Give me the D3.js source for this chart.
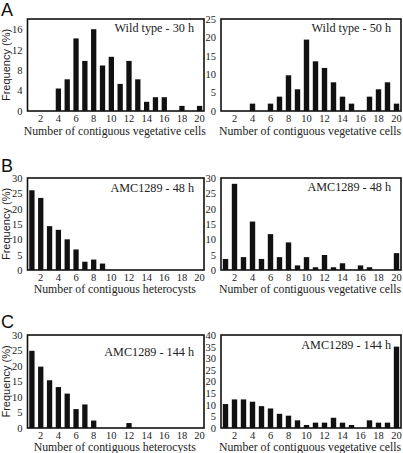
<!DOCTYPE html>
<html><head><meta charset="utf-8">
<script src="https://cdn.jsdelivr.net/npm/d3@7"></script>
<style>body{margin:0;background:#fff}svg{display:block}</style>
</head><body><svg id="c" width="403" height="453"></svg>
<script>
const categories = d3.range(1, 21);
const tickLabels = [2,4,6,8,10,12,14,16,18,20];
const wt30 = [0,0,0,4.4,6.2,14.2,9.8,16.0,8.9,10.6,5.3,9.8,6.2,1.8,2.7,2.7,0,1.0,0,1.0];
const wt50 = [0,0,0,2.0,0,2.0,3.9,9.7,5.9,19.4,13.5,11.7,7.8,3.9,2.0,0,3.9,5.9,7.8,2.0];
const amc48Het = [26.0,23.5,14.3,13.1,10.0,6.7,2.7,3.4,2.1,0,0,0,0,0,0,0,0,0,0,0];
const amc48Veg = [3.6,28.1,4.2,15.8,3.6,11.7,4.2,9.0,1.5,4.2,0.9,4.9,0.9,2.2,0,1.5,0.9,0,0,5.5];
const amc144Het = [24.9,19.8,15.4,13.2,11.1,6.1,7.6,2.4,0,0,0,1.6,0,0,0,0,0,0,0,0];
const amc144Veg = [10.3,12.3,12.3,11.3,9.4,8.4,6.1,5.3,3.3,1.3,2.3,2.3,4.4,2.3,1.3,0,3.3,2.3,2.3,35.0];

const panels = [
  {vals: wt30, max: 18, step: 4, title: "Wild type - 30 h", xlab: "Number of contiguous vegetative cells", col: 0, row: 0, ty: 28},
  {vals: wt50, max: 25, step: 5, title: "Wild type - 50 h", xlab: "Number of contiguous vegetative cells", col: 1, row: 0, ty: 28},
  {vals: amc48Het, max: 30, step: 5, title: "AMC1289 - 48 h", xlab: "Number of contiguous heterocysts", col: 0, row: 1, ty: 188},
  {vals: amc48Veg, max: 30, step: 5, title: "AMC1289 - 48 h", xlab: "Number of contiguous vegetative cells", col: 1, row: 1, ty: 187},
  {vals: amc144Het, max: 30, step: 5, title: "AMC1289 - 144 h", xlab: "Number of contiguous heterocysts", col: 0, row: 2, ty: 352},
  {vals: amc144Veg, max: 40, step: 5, title: "AMC1289 - 144 h", xlab: "Number of contiguous vegetative cells", col: 1, row: 2, ty: 345}
];
const colX = [[27.5, 204], [221, 401]];
const rowY = [[19, 111], [178, 270], [335, 428]];
const labOff = [24, 23, 22.5];
const letters = [["A", 16], ["B", 172], ["C", 328]];

const svg = d3.select("#c");
const serif = "'Liberation Serif', 'Times New Roman', serif";
const sans = "'Liberation Sans', Arial, sans-serif";

panels.forEach(p => {
  const [x0, x1] = colX[p.col];
  const [y0, y1] = rowY[p.row];
  const x = d3.scaleBand().domain(categories).range([x0, x1]).paddingInner(0.4).paddingOuter(0.2);
  const y = d3.scaleLinear().domain([0, p.max]).range([y1, y0]);
  const g = svg.append("g");
  g.selectAll("rect.bar").data(p.vals.map((v, i) => ({c: categories[i], v})).filter(d => d.v > 0))
    .enter().append("rect").attr("class", "bar")
    .attr("x", d => x(d.c)).attr("width", x.bandwidth())
    .attr("y", d => y(d.v)).attr("height", d => y(0) - y(d.v))
    .attr("fill", "#111");
  g.append("rect").attr("x", x0).attr("y", y0).attr("width", x1 - x0).attr("height", y1 - y0)
    .attr("fill", "none").attr("stroke", "#111").attr("stroke-width", 1.6);
  const ya = d3.axisLeft(y).tickValues(d3.range(0, p.max + 0.01, p.step)).tickSize(0).tickPadding(5);
  const yg = g.append("g").attr("transform", `translate(${x0},0)`).call(ya);
  yg.select(".domain").remove();
  yg.selectAll("text").attr("font-family", serif).attr("font-size", 10.5).attr("fill", "#222");
  const xa = d3.axisBottom(x).tickValues(tickLabels).tickSize(0).tickPadding(4);
  const xg = g.append("g").attr("transform", `translate(0,${y1})`).call(xa);
  xg.select(".domain").remove();
  xg.selectAll("text").attr("font-family", serif).attr("font-size", 10.5).attr("fill", "#222");
  g.append("text").attr("x", (x0 + x1) / 2 - 1).attr("y", y1 + labOff[p.row])
    .attr("text-anchor", "middle").attr("font-family", serif).attr("font-size", 11.8).attr("fill", "#222")
    .text(p.xlab);
  g.append("text").attr("x", x1 - 10).attr("y", p.ty + 4)
    .attr("text-anchor", "end").attr("font-family", serif).attr("font-size", 12.2).attr("fill", "#222")
    .text(p.title);
  if (p.col === 0) {
    g.append("text").attr("transform", `translate(10,${(y0 + y1) / 2}) rotate(-90)`)
      .attr("text-anchor", "middle").attr("font-family", sans).attr("font-size", 11).attr("fill", "#222")
      .text("Frequency (%)");
  }
});
letters.forEach(([t, by]) => {
  svg.append("text").attr("x", 1).attr("y", by).attr("font-family", sans).attr("font-size", 18).attr("fill", "#111").text(t);
});
</script></body></html>
